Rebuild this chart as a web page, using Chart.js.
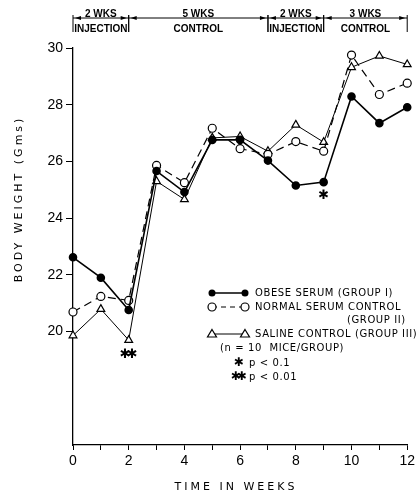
<!DOCTYPE html>
<html lang="en">
<head>
    <meta charset="UTF-8">
    <title>Body Weight</title>
    <script src="https://cdn.jsdelivr.net/npm/chart.js"></script>
    <style>
        html, body { margin: 0; padding: 0; background: #fff; }
        #wrap { width: 418px; height: 495px; }
    </style>
</head>
<body>
    <div id="wrap"><canvas id="bwChart" width="418" height="495"></canvas></div>
    <script>
        // data
        const weeks = [0, 1, 2, 3, 4, 5, 6, 7, 8, 9, 10, 11, 12];
        const obeseSerum = [22.62, 21.9, 20.76, 25.66, 24.92, 26.76, 26.76, 26.03, 25.15, 25.27, 28.29, 27.35, 27.91];
        const normalSerum = [20.69, 21.24, 21.1, 25.86, 25.25, 27.17, 26.45, 26.25, 26.7, 26.36, 29.75, 28.36, 28.76];
        const salineControl = [19.86, 20.79, 19.7, 25.3, 24.66, 26.83, 26.88, 26.36, 27.29, 26.68, 29.32, 29.72, 29.42];

        const periodStart = [0, 2, 7, 9];
        const periodEnd = [2, 7, 9, 12];
        const periodLength = ['2 WKS', '5 WKS', '2 WKS', '3 WKS'];
        const periodName = ['INJECTION', 'CONTROL', 'INJECTION', 'CONTROL'];

        const sigWeek = [2, 9];
        const sigValue = [19.2, 24.8];
        const sigMark = ['**', '*'];

        const yTickLabels = [20, 22, 24, 26, 28, 30];
        const xTickLabels = [0, 2, 4, 6, 8, 10, 12];

        const legendText = [
            ['OBESE SERUM (GROUP I)'],
            ['NORMAL SERUM CONTROL', '(GROUP II)'],
            ['SALINE CONTROL (GROUP III)']
        ];

        const pts = arr => weeks.map((w, i) => ({ x: w, y: arr[i] }));

        function drawMarker(ctx, kind, x, y) {
            ctx.save();
            ctx.strokeStyle = '#000';
            ctx.lineWidth = 1.2;
            ctx.beginPath();
            if (kind === 'dot') {
                ctx.fillStyle = '#000';
                ctx.arc(x, y, 3.5, 0, Math.PI * 2);
                ctx.fill();
            } else if (kind === 'ring') {
                ctx.fillStyle = '#fff';
                ctx.arc(x, y, 4, 0, Math.PI * 2);
                ctx.fill();
                ctx.stroke();
            } else {
                ctx.fillStyle = '#fff';
                ctx.moveTo(x, y - 4.5);
                ctx.lineTo(x + 4.5, y + 3);
                ctx.lineTo(x - 4.5, y + 3);
                ctx.closePath();
                ctx.fill();
                ctx.stroke();
            }
            ctx.restore();
        }

        const extras = {
            id: 'extras',
            afterDraw(chart) {
                const { ctx, scales: { x, y } } = chart;
                ctx.save();
                ctx.fillStyle = '#000';
                ctx.strokeStyle = '#000';

                // period header
                const hy = 18;
                ctx.lineWidth = 1;
                ctx.beginPath();
                ctx.moveTo(x.getPixelForValue(0), hy);
                ctx.lineTo(x.getPixelForValue(12), hy);
                ctx.stroke();
                ctx.font = 'bold 10px "Liberation Sans"';
                ctx.textAlign = 'center';
                periodStart.forEach((s, i) => {
                    const x0 = x.getPixelForValue(s);
                    const x1 = x.getPixelForValue(periodEnd[i]);
                    // boundary marks
                    ctx.beginPath();
                    ctx.moveTo(x0, hy - 3);
                    ctx.lineTo(x0, hy + 14);
                    ctx.moveTo(x1, hy - 3);
                    ctx.lineTo(x1, hy + 14);
                    ctx.stroke();
                    // arrow heads
                    [[x0 + 2, 1], [x1 - 2, -1]].forEach(([ax, d]) => {
                        ctx.beginPath();
                        ctx.moveTo(ax, hy);
                        ctx.lineTo(ax + d * 6, hy - 2);
                        ctx.lineTo(ax + d * 6, hy + 2);
                        ctx.closePath();
                        ctx.fill();
                    });
                    const cx = (x0 + x1) / 2;
                    ctx.textBaseline = 'alphabetic';
                    ctx.fillText(periodLength[i], cx, hy - 1);
                    ctx.textBaseline = 'top';
                    ctx.fillText(periodName[i], cx, hy + 6);
                });

                // significance marks
                ctx.font = 'bold 13px "DejaVu Sans"';
                ctx.textAlign = 'center';
                ctx.textBaseline = 'middle';
                sigWeek.forEach((w, i) => {
                    const px = x.getPixelForValue(w);
                    const py = y.getPixelForValue(sigValue[i]);
                    const n = sigMark[i].length;
                    for (let k = 0; k < n; k++) {
                        ctx.fillText('\u2731', px + (k - (n - 1) / 2) * 7, py);
                    }
                });

                // legend
                const lx0 = 212, lx1 = 245, tx = 255;
                const rows = [293, 307, 334];
                const kinds = ['dot', 'ring', 'tri'];
                const dashes = [[], [5, 4], []];
                ctx.font = '10px "DejaVu Sans"';
                ctx.letterSpacing = '0.6px';
                ctx.textAlign = 'left';
                ctx.textBaseline = 'middle';
                rows.forEach((ry, i) => {
                    ctx.save();
                    ctx.setLineDash(dashes[i]);
                    ctx.lineWidth = i === 0 ? 1.5 : 1;
                    ctx.beginPath();
                    ctx.moveTo(lx0, ry);
                    ctx.lineTo(lx1, ry);
                    ctx.stroke();
                    ctx.restore();
                    drawMarker(ctx, kinds[i], lx0, ry);
                    drawMarker(ctx, kinds[i], lx1, ry);
                    ctx.fillText(legendText[i][0], tx, ry);
                    if (legendText[i][1]) {
                        ctx.fillText(legendText[i][1], 347, ry + 13);
                    }
                });
                ctx.fillText('(n = 10  MICE/GROUP)', 220, 348);
                ctx.fillText('p < 0.1', 249, 363);
                ctx.fillText('p < 0.01', 249, 377);
                ctx.font = 'bold 12px "DejaVu Sans"';
                ctx.textAlign = 'center';
                ctx.fillText('\u2731', 239, 363);
                ctx.fillText('\u2731', 236, 377);
                ctx.fillText('\u2731', 242, 377);

                // axis titles
                ctx.font = '11px "DejaVu Sans"';
                ctx.letterSpacing = '3px';
                ctx.textAlign = 'center';
                ctx.textBaseline = 'middle';
                ctx.fillText('TIME IN WEEKS', 236, 487);
                ctx.save();
                ctx.translate(19, 199);
                ctx.rotate(-Math.PI / 2);
                ctx.fillText('BODY WEIGHT (Gms)', 0, 0);
                ctx.restore();

                ctx.restore();
            }
        };

        new Chart(document.getElementById('bwChart'), {
            type: 'line',
            data: {
                datasets: [
                    {
                        label: 'OBESE SERUM (GROUP I)',
                        data: pts(obeseSerum),
                        borderColor: '#000',
                        borderWidth: 1.6,
                        pointRadius: 3.5,
                        pointBackgroundColor: '#000',
                        pointBorderColor: '#000',
                        tension: 0
                    },
                    {
                        label: 'NORMAL SERUM CONTROL (GROUP II)',
                        data: pts(normalSerum),
                        borderColor: '#000',
                        borderWidth: 1.2,
                        borderDash: [8, 5],
                        pointRadius: 4,
                        pointBorderWidth: 1.2,
                        pointBackgroundColor: '#fff',
                        pointBorderColor: '#000',
                        tension: 0
                    },
                    {
                        label: 'SALINE CONTROL (GROUP III)',
                        data: pts(salineControl),
                        borderColor: '#000',
                        borderWidth: 1,
                        pointStyle: 'triangle',
                        pointRadius: 4.5,
                        pointBorderWidth: 1.2,
                        pointBackgroundColor: '#fff',
                        pointBorderColor: '#000',
                        tension: 0
                    }
                ]
            },
            options: {
                responsive: false,
                animation: false,
                clip: false,
                layout: { padding: { top: 48, right: 6, left: 0, bottom: 0 } },
                plugins: {
                    legend: { display: false },
                    tooltip: { enabled: false }
                },
                scales: {
                    x: {
                        type: 'linear',
                        min: 0,
                        max: 12,
                        afterFit: s => { s.height = 50; },
                        border: { display: true, color: '#000', width: 1.3 },
                        grid: { drawOnChartArea: false, tickLength: 5, tickColor: '#000' },
                        ticks: {
                            stepSize: 1,
                            color: '#000',
                            padding: 3,
                            maxRotation: 0,
                            font: { family: 'Liberation Sans', size: 14 },
                            callback: v => xTickLabels.includes(v) ? v : ''
                        }
                    },
                    y: {
                        min: 16,
                        max: 30,
                        afterFit: s => { s.width = 73; },
                        border: { display: true, color: '#000', width: 1.3 },
                        grid: {
                            drawOnChartArea: false,
                            tickLength: 7,
                            tickColor: c => yTickLabels.includes(c.tick && c.tick.value) ? '#000' : 'rgba(0,0,0,0)'
                        },
                        ticks: {
                            stepSize: 2,
                            color: '#000',
                            padding: 3,
                            font: { family: 'Liberation Sans', size: 14 },
                            callback: v => yTickLabels.includes(v) ? v : ''
                        }
                    }
                }
            },
            plugins: [extras]
        });
    </script>
</body>
</html>
